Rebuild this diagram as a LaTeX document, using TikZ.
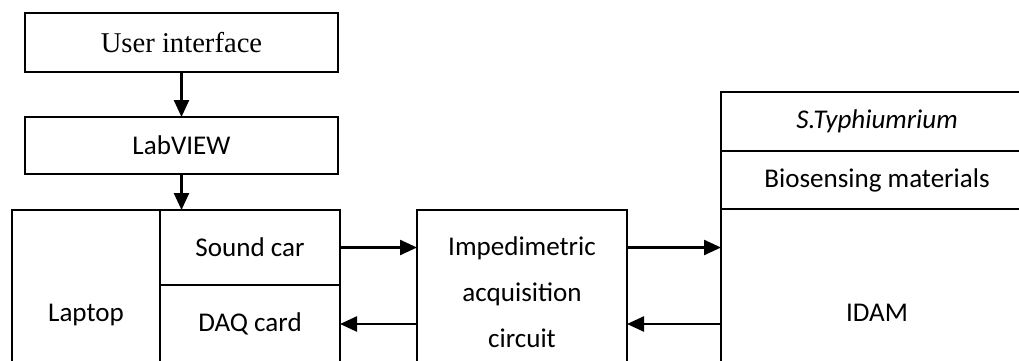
\documentclass[tikz,border=0pt]{standalone}
\usepackage{fontspec}
\setmainfont{Carlito}
\newfontfamily\uifont{Liberation Serif}
\usetikzlibrary{arrows.meta}
\newcommand{\px}{0.02cm}
\begin{document}
\begin{tikzpicture}[
  x=0.02cm, y=-0.02cm,
  font=\fontsize{15.4}{26.2}\selectfont,
  blk/.style={draw, line width=1.3pt, rectangle, inner sep=0pt, outer sep=0pt, align=center},
  arr/.style={line width=1.4pt, -{Triangle[length=17*\px, width=15*\px]}}
]
\useasboundingbox (0,0) rectangle (1019,360);
\clip (0,0) rectangle (1019,360);
% ---------------- software side -------------------------------------------
\node[blk, minimum width=313*\px, minimum height=59*\px, font=\uifont\fontsize{16.3}{20}\selectfont]
  (ui) at (181.5,42.5) {User interface};
\node[blk, minimum width=313*\px, minimum height=57*\px] (lab) at (181.5,145.5) {LabVIEW};
\draw[arr] (ui.south) -- (lab.north);
% ---------------- laptop with its two cards -------------------------------
\node[blk, minimum width=148*\px, minimum height=210*\px] (lap) at (86,315) {Laptop};
\node[blk, minimum width=180*\px, minimum height=75*\px] (snd) at (250,247.5) {Sound car};
\node[blk, minimum width=180*\px, minimum height=78*\px] (daq) at (250,324) {DAQ card};
\draw[arr] (lab.south) -- (lab.south |- snd.north);
% ---------------- acquisition circuit -------------------------------------
\node[blk, minimum width=210*\px, minimum height=164*\px] (imp) at (522,292)
  {Impedimetric\\acquisition\\circuit};
% ---------------- sensor stack --------------------------------------------
\node[blk, minimum width=312*\px, minimum height=59*\px] (sty) at (877,121.5) {\textit{S.Typhiumrium}};
\node[blk, minimum width=312*\px, minimum height=58*\px] (bio) at (877,180) {Biosensing materials};
\node[blk, minimum width=312*\px, minimum height=208*\px] (idam) at (877,313) {IDAM};
% ---------------- signal path ---------------------------------------------
\draw[arr] (snd.east) -- (snd.east -| imp.west);
\draw[arr] (imp.east |- snd.east) -- (snd.east -| idam.west);
\draw[arr] (idam.west |- daq.east) -- (daq.east -| imp.east);
\draw[arr] (imp.west |- daq.east) -- (daq.east);
\end{tikzpicture}
\end{document}
